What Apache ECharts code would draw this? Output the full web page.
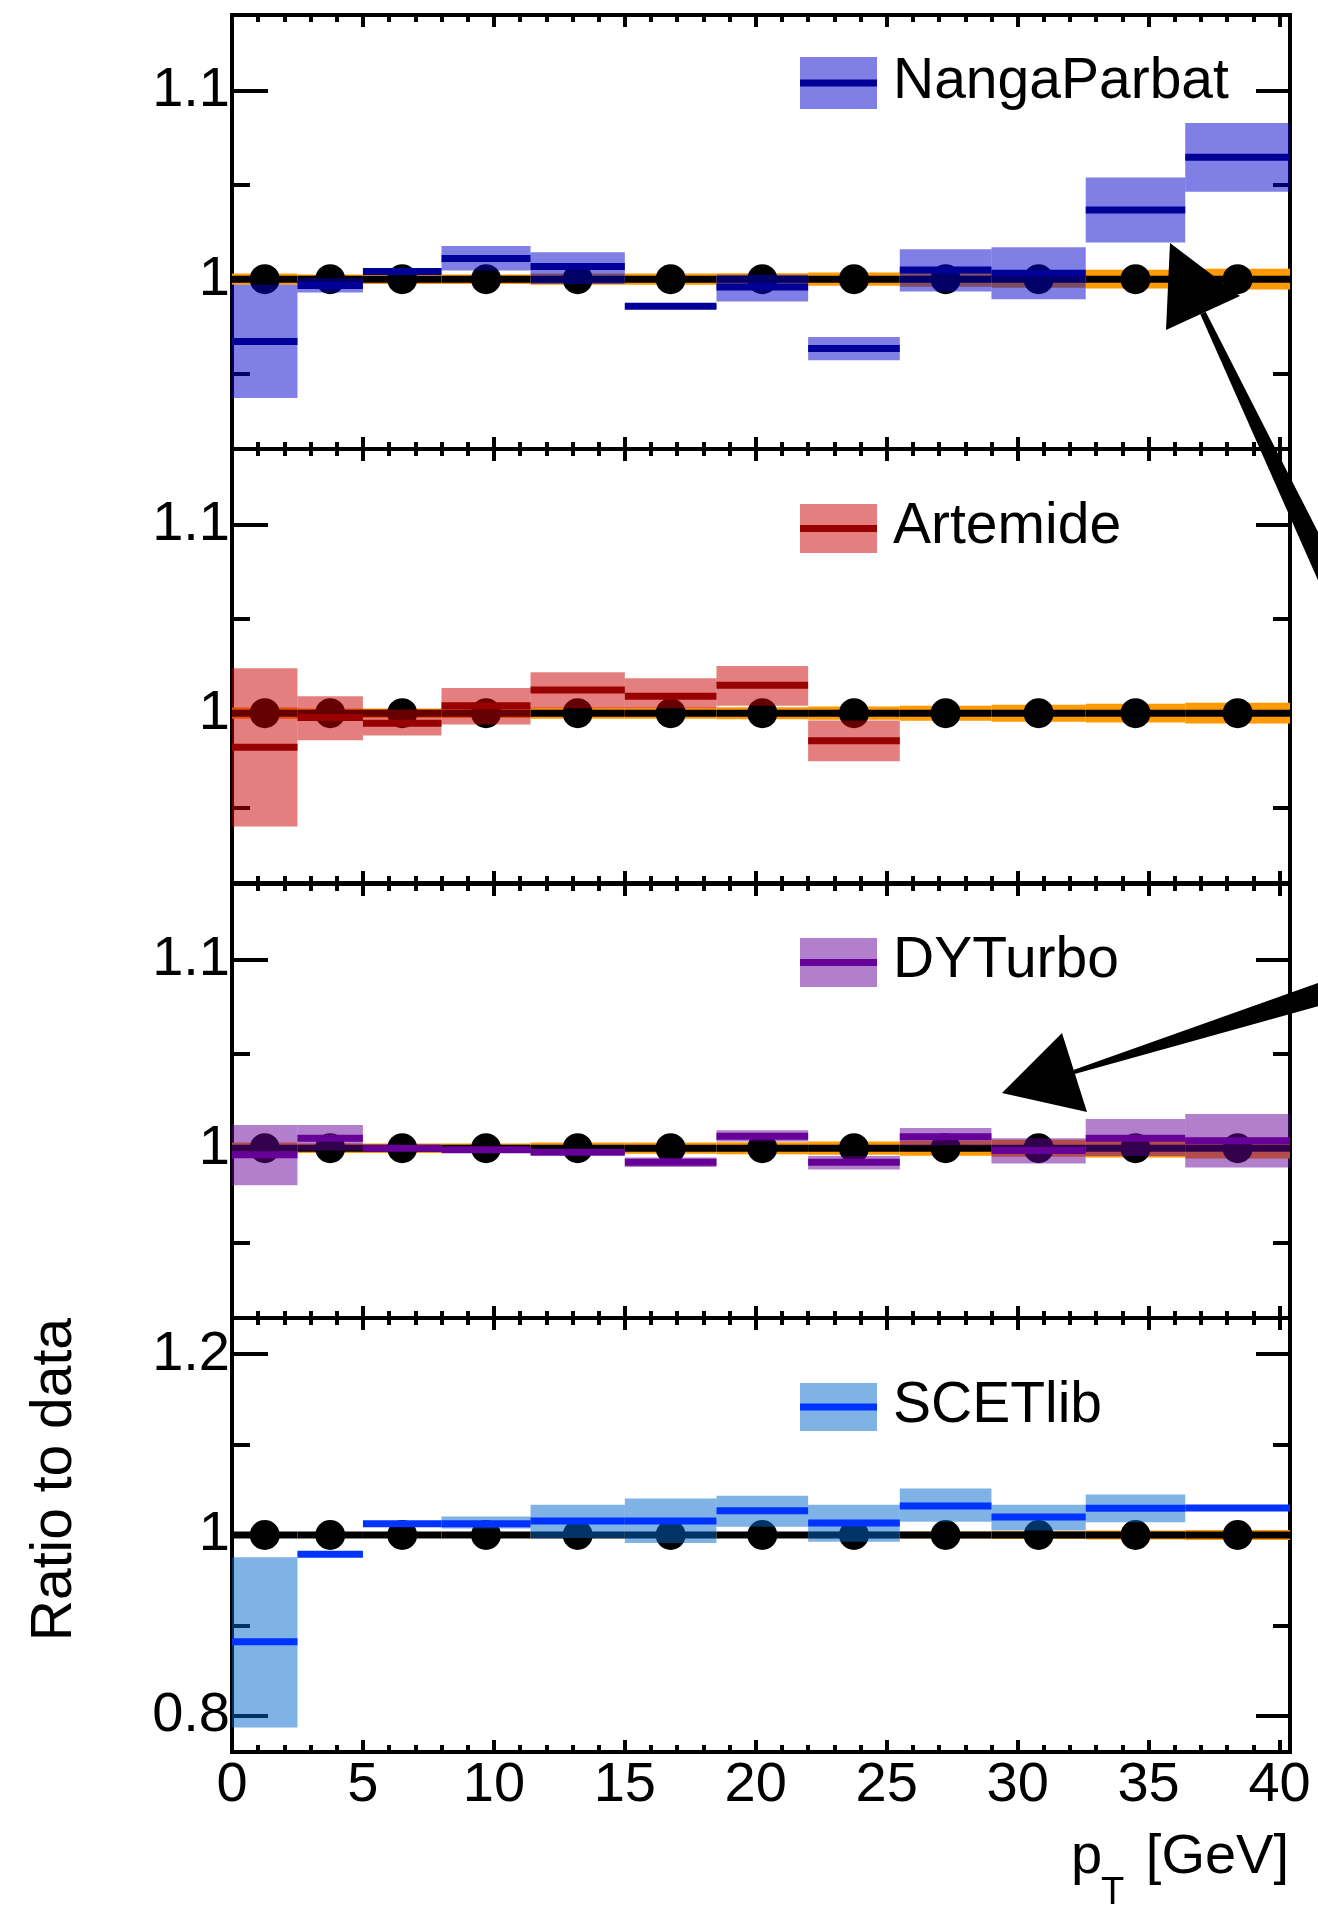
<!DOCTYPE html>
<html>
<head>
<meta charset="utf-8">
<script src="https://cdn.jsdelivr.net/npm/echarts@6/dist/echarts.min.js"></script>
<style>
html, body { margin: 0; padding: 0; background: #fff; }
#main { width: 1318px; height: 1905px; }
</style>
</head>
<body>
<div id="main"></div>
<script>
// pT bins [GeV]
var binLo = [0, 2.5, 5, 8, 11.4, 15, 18.5, 22, 25.5, 29, 32.6, 36.4];
var binHi = [2.5, 5, 8, 11.4, 15, 18.5, 22, 25.5, 29, 32.6, 36.4, 40.4];
var pointX = [1.25, 3.75, 6.5, 9.7, 13.2, 16.75, 20.25, 23.75, 27.25, 30.8, 34.5, 38.4];

// data / data = 1, with the data uncertainty band
var dataRatio = [1, 1, 1, 1, 1, 1, 1, 1, 1, 1, 1, 1];
var dataErr = [0.003, 0.0025, 0.0025, 0.0025, 0.003, 0.003, 0.0032, 0.0035, 0.004, 0.0045, 0.005, 0.0055];

// NangaParbat
var npMid = [0.967, 0.9967, 1.0041, 1.0109, 1.0067, 0.9856, 0.9958, 0.9632, 1.0049, 1.0032, 1.0366, 1.0646];
var npLo  = [0.937, 0.993, 1.0025, 1.0046, 0.9975, 0.9843, 0.9882, 0.957, 0.9935, 0.9894, 1.0194, 1.0463];
var npHi  = [0.997, 1.0005, 1.0057, 1.0176, 1.0143, 0.9869, 1.0023, 0.9694, 1.0158, 1.0169, 1.0539, 1.0827];

// Artemide (no prediction above 25.5 GeV)
var arMid = [0.982, 0.9977, 0.9947, 1.0039, 1.0123, 1.009, 1.0148, 0.9854, null, null, null, null];
var arLo  = [0.940, 0.9856, 0.9882, 0.994, 1.0026, 1.0026, 1.004, 0.9745, null, null, null, null];
var arHi  = [1.0238, 1.009, 1.0019, 1.0134, 1.0217, 1.0185, 1.025, 0.9961, null, null, null, null];

// DYTurbo
var dyMid = [0.9965, 1.0053, 1.0, 0.9991, 0.9979, 0.9926, 1.0063, 0.9926, 1.006, 0.9988, 1.0053, 1.004];
var dyLo  = [0.9803, 0.9988, 0.999, 0.998, 0.9968, 0.99, 1.0035, 0.9887, 1.0014, 0.9919, 0.9958, 0.9898];
var dyHi  = [1.0123, 1.0123, 1.001, 1.0003, 0.999, 0.9951, 1.0095, 0.9958, 1.0107, 1.0053, 1.0155, 1.0181];

// SCETlib
var scMid = [0.8818, 0.9787, 1.0125, 1.0125, 1.0154, 1.0154, 1.0267, 1.0134, 1.0322, 1.02, 1.0296, 1.03];
var scLo  = [0.787, 0.9775, 1.0113, 1.0071, 0.9967, 0.9912, 1.0092, 0.9925, 1.0146, 1.005, 1.0142, 1.029];
var scHi  = [0.9754, 0.98, 1.0137, 1.0205, 1.0334, 1.0405, 1.0434, 1.0334, 1.0514, 1.0334, 1.0447, 1.031];

// axis ticks
var xMajor = [0, 5, 10, 15, 20, 25, 30, 35, 40];
var yRange = [[0.91, 1.14], [0.91, 1.14], [0.91, 1.14], [0.76, 1.24]];
var yMajor = [[1, 1.1], [1, 1.1], [1, 1.1], [0.8, 1, 1.2]];
var yMinor = [[0.95, 1.05], [0.95, 1.05], [0.95, 1.05], [0.9, 1.1]];

var models = [
    { name: 'NangaParbat', mid: npMid, lo: npLo, hi: npHi, fill: 'rgba(0,0,204,0.5)', line: '#000099' },
    { name: 'Artemide', mid: arMid, lo: arLo, hi: arHi, fill: 'rgba(204,0,0,0.5)', line: '#990000' },
    { name: 'DYTurbo', mid: dyMid, lo: dyLo, hi: dyHi, fill: 'rgba(102,0,153,0.5)', line: '#660099' },
    { name: 'SCETlib', mid: scMid, lo: scLo, hi: scHi, fill: 'rgba(0,102,204,0.5)', line: '#0033ff' }
];

var FONT = '"Liberation Sans", Arial, Helvetica, sans-serif';
var gridLeft = 232, gridWidth = 1058, panelH = 434;
var panelTop = [15, 449, 884, 1318];
var legendBox = [[57, 109], [504, 553], [938, 987], [1383, 1431]];

var xMinor = [];
for (var i = 1; i < 40; i++) {
    if (i % 5 !== 0) xMinor.push(i);
}

function fmt(v) {
    return String(Math.round(v * 100) / 100);
}

function xAx(g, pos, ticks, len, withLabels) {
    return {
        type: 'value', gridIndex: g, min: 0, max: 40.4, position: pos,
        axisLine: { show: false, onZero: false },
        splitLine: { show: false },
        axisTick: { show: true, inside: true, length: len, customValues: ticks,
            lineStyle: { color: '#000', width: 4 } },
        axisLabel: withLabels ? {
            show: true, customValues: ticks, margin: 6, color: '#000',
            fontFamily: FONT, fontSize: 56, formatter: fmt
        } : { show: false }
    };
}

function yAx(g, pos, ticks, len, withLabels) {
    return {
        type: 'value', gridIndex: g, min: yRange[g][0], max: yRange[g][1], position: pos,
        axisLine: { show: false, onZero: false },
        splitLine: { show: false },
        axisTick: { show: true, inside: true, length: len, customValues: ticks,
            lineStyle: { color: '#000', width: 4 } },
        axisLabel: withLabels ? {
            show: true, customValues: ticks, margin: 2, color: '#000',
            fontFamily: FONT, fontSize: 56, formatter: fmt, padding: [10, 0, 0, 0]
        } : { show: false }
    };
}

var grids = [], xAxes = [], yAxes = [], series = [], graphics = [];

var dataRows = binLo.map(function (l, i) {
    return [l, binHi[i], dataRatio[i], dataErr[i]];
});
var dotRows = pointX.map(function (x, i) {
    return [x, dataRatio[i]];
});

function renderData(params, api) {
    var x0 = api.value(0), x1 = api.value(1), y = api.value(2), e = api.value(3);
    var a = api.coord([x0, y + e]);
    var b = api.coord([x1, y - e]);
    var c = api.coord([x0, y]);
    var d = api.coord([x1, y]);
    return {
        type: 'group',
        children: [
            { type: 'rect', shape: { x: a[0], y: a[1], width: b[0] - a[0], height: b[1] - a[1] },
              style: { fill: '#ff9900' } },
            { type: 'line', shape: { x1: c[0], y1: c[1], x2: d[0], y2: d[1] },
              style: { stroke: '#000', lineWidth: 7, lineCap: 'butt' } }
        ]
    };
}

function boxRenderer(fill) {
    return function (params, api) {
        var a = api.coord([api.value(0), api.value(3)]);
        var b = api.coord([api.value(1), api.value(2)]);
        return { type: 'rect', shape: { x: a[0], y: a[1], width: b[0] - a[0], height: b[1] - a[1] },
                 style: { fill: fill } };
    };
}

function lineRenderer(color) {
    return function (params, api) {
        var a = api.coord([api.value(0), api.value(4)]);
        var b = api.coord([api.value(1), api.value(4)]);
        return { type: 'line', shape: { x1: a[0], y1: a[1], x2: b[0], y2: b[1] },
                 style: { stroke: color, lineWidth: 7, lineCap: 'butt' } };
    };
}

models.forEach(function (m, g) {
    grids.push({
        left: gridLeft, top: panelTop[g], width: gridWidth, height: panelH,
        show: true, borderColor: '#000', borderWidth: 4, backgroundColor: 'transparent',
        outerBoundsMode: 'none'
    });
    var last = g === models.length - 1;
    xAxes.push(xAx(g, 'bottom', xMajor, 12, last));
    xAxes.push(xAx(g, 'bottom', xMinor, 7, false));
    xAxes.push(xAx(g, 'top', xMajor, 12, false));
    xAxes.push(xAx(g, 'top', xMinor, 7, false));
    yAxes.push(yAx(g, 'left', yMajor[g], 36, true));
    yAxes.push(yAx(g, 'left', yMinor[g], 18, false));
    yAxes.push(yAx(g, 'right', yMajor[g], 34, false));
    yAxes.push(yAx(g, 'right', yMinor[g], 17, false));

    var xi = 4 * g, yi = 4 * g;

    series.push({
        type: 'custom', xAxisIndex: xi, yAxisIndex: yi, z: 1,
        renderItem: renderData, data: dataRows, encode: { x: [0, 1], y: 2 }
    });
    series.push({
        type: 'scatter', xAxisIndex: xi, yAxisIndex: yi, z: 2,
        symbol: 'circle', symbolSize: 30, itemStyle: { color: '#000', opacity: 1 },
        data: dotRows
    });

    var rows = [];
    for (var i = 0; i < m.mid.length; i++) {
        if (m.mid[i] === null) continue;
        rows.push([binLo[i], binHi[i], m.lo[i], m.hi[i], m.mid[i]]);
    }
    series.push({
        type: 'custom', name: m.name + ' band', xAxisIndex: xi, yAxisIndex: yi, z: 3,
        renderItem: boxRenderer(m.fill), data: rows, encode: { x: [0, 1], y: [2, 3] }
    });
    series.push({
        type: 'custom', name: m.name, xAxisIndex: xi, yAxisIndex: yi, z: 4,
        renderItem: lineRenderer(m.line), data: rows, encode: { x: [0, 1], y: 4 }
    });

    // legend entry
    var lb = legendBox[g];
    graphics.push({
        type: 'rect', z: 50,
        shape: { x: 800, y: lb[0], width: 77, height: lb[1] - lb[0] },
        style: { fill: m.fill }
    });
    graphics.push({
        type: 'line', z: 51,
        shape: { x1: 800, y1: (lb[0] + lb[1]) / 2, x2: 877, y2: (lb[0] + lb[1]) / 2 },
        style: { stroke: m.line, lineWidth: 7 }
    });
    graphics.push({
        type: 'text', z: 51, x: 893, y: (lb[0] + lb[1]) / 2 - 1,
        style: { text: m.name, fill: '#000', font: '57px ' + FONT, align: 'left', verticalAlign: 'middle' }
    });
});

// axis titles
graphics.push({
    type: 'text', z: 60, x: 55, y: 1318, rotation: Math.PI / 2,
    style: { text: 'Ratio to data', fill: '#000', font: '57px ' + FONT, align: 'right', verticalAlign: 'middle' }
});
graphics.push({
    type: 'text', z: 60, x: 1289, y: 1858,
    style: { text: '[GeV]', fill: '#000', font: '56px ' + FONT, align: 'right', verticalAlign: 'middle' }
});
graphics.push({
    type: 'text', z: 60, x: 1071, y: 1858,
    style: { text: 'p', fill: '#000', font: '56px ' + FONT, align: 'left', verticalAlign: 'middle' }
});
graphics.push({
    type: 'text', z: 60, x: 1101, y: 1894,
    style: { text: 'T', fill: '#000', font: '38px ' + FONT, align: 'left', verticalAlign: 'middle' }
});

// hand-drawn annotation arrows
graphics.push({
    type: 'polygon', z: 70,
    shape: { points: [[1170, 243], [1166, 330], [1240, 296]] },
    style: { fill: '#000' }
});
graphics.push({
    type: 'polygon', z: 70,
    shape: { points: [[1205.7, 311.7], [1340, 575.3], [1320, 584.7], [1200.3, 314.3]] },
    style: { fill: '#000' }
});
graphics.push({
    type: 'polygon', z: 70,
    shape: { points: [[1002, 1093], [1062, 1033], [1087, 1112]] },
    style: { fill: '#000' }
});
graphics.push({
    type: 'polygon', z: 70,
    shape: { points: [[1074.6, 1073.9], [1333.4, 1002], [1326.6, 980], [1073.4, 1070.1]] },
    style: { fill: '#000' }
});

var chart = echarts.init(document.getElementById('main'));
chart.setOption({
    animation: false,
    backgroundColor: '#fff',
    textStyle: { fontFamily: FONT },
    grid: grids,
    xAxis: xAxes,
    yAxis: yAxes,
    series: series,
    graphic: graphics
});
</script>
</body>
</html>
